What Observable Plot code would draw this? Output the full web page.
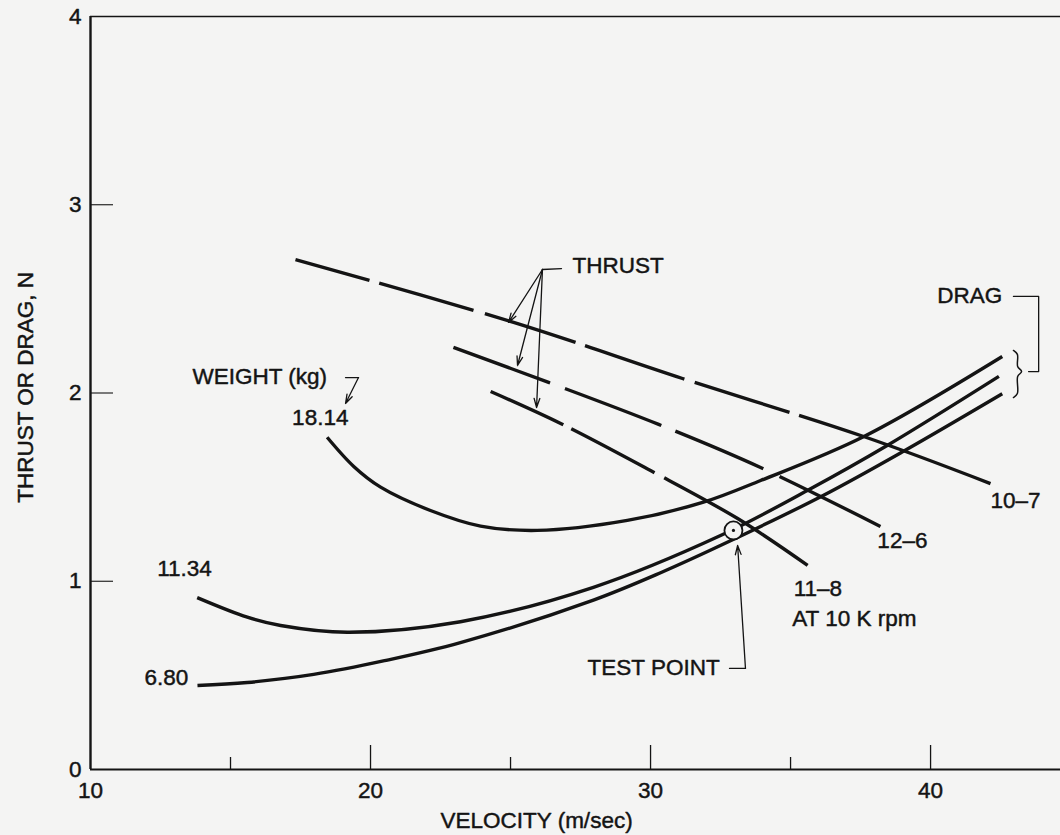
<!DOCTYPE html>
<html><head><meta charset="utf-8">
<script src="https://cdn.jsdelivr.net/npm/d3@7"></script>
<script src="https://cdn.jsdelivr.net/npm/@observablehq/plot@0.6"></script>
<style>
html,body{margin:0;padding:0;background:#f4f4f3;}
#chart svg{display:block;}
</style></head><body><div id="chart"></div>
<script>
// ---- Data (velocity m/sec, thrust or drag N) ----
const weightLabels = ["18.14", "11.34", "6.80"];
const drag18Velocity = [18.45, 19.40, 20.36, 22.14, 23.93, 25.95, 29.17, 31.89, 33.93, 37.62, 42.56];
const drag18Force    = [1.765, 1.610, 1.50, 1.376, 1.293, 1.270, 1.323, 1.42, 1.535, 1.769, 2.194];
const drag11Velocity = [13.81, 15.6, 16.79, 19.17, 23.21, 27.96, 32.5, 35.6, 38.45, 42.44];
const drag11Force    = [0.913, 0.809, 0.765, 0.729, 0.785, 0.968, 1.243, 1.482, 1.721, 2.088];
const drag6Velocity  = [13.82, 15.6, 17.97, 20.5, 23.21, 27.96, 30.4, 32.74, 36.18, 39.05, 42.56];
const drag6Force     = [0.446, 0.462, 0.505, 0.578, 0.674, 0.900, 1.048, 1.207, 1.457, 1.692, 1.996];

const propellers = ["10–7", "12–6", "11–8"];
const thrust107Velocity = [17.32, 25.11, 31.14, 37.61, 42.14];
const thrust107Force    = [2.709, 2.375, 2.077, 1.769, 1.519];
const thrust126Velocity = [22.96, 26.36, 30.29, 33.93, 38.21];
const thrust126Force    = [2.242, 2.056, 1.833, 1.604, 1.291];
const thrust118Velocity = [24.29, 26.79, 30.0, 33.11, 35.61];
const thrust118Force    = [2.008, 1.838, 1.588, 1.333, 1.084];

const testPointVelocity = [32.96];
const testPointForce = [1.27];

const xTickLabels = [10, 20, 30, 40];
const xMajorTicks = [20, 30, 40];
const xMinorTicks = [15, 25, 35];
const yTickLabels = [0, 1, 2, 3, 4];
const yTicks = [1, 2, 3];

// ---- Annotations (data coordinates) ----
const annotations = [
  {text: "WEIGHT (kg)", x: 13.64, y: 2.088},
  {text: weightLabels[0], x: 17.20, y: 1.867},
  {text: weightLabels[1], x: 12.38, y: 1.068},
  {text: weightLabels[2], x: 11.93, y: 0.489},
  {text: "THRUST", x: 27.21, y: 2.677},
  {text: "DRAG", x: 40.24, y: 2.518},
  {text: propellers[0], x: 42.14, y: 1.429},
  {text: propellers[1], x: 38.10, y: 1.216},
  {text: propellers[2], x: 35.11, y: 0.961},
  {text: "AT 10 K rpm", x: 35.06, y: 0.802},
  {text: "TEST POINT", x: 27.75, y: 0.542}
];
const leaderLines = [
  {id: "weight", pts: [[19.107, 2.082], [19.571, 2.082]]},
  {id: "thrust", pts: [[26.82, 2.661], [26.14, 2.656]]},
  {id: "drag", pts: [[42.96, 2.513], [43.86, 2.513], [43.86, 2.114], [43.5, 2.114]]},
  {id: "test", pts: [[32.82, 0.537], [33.39, 0.537]]}
];
const leaderArrows = [
  {x1: 19.571, y1: 2.082, x2: 19.107, y2: 1.944},
  {x1: 26.14, y1: 2.656, x2: 24.93, y2: 2.375},
  {x1: 26.14, y1: 2.656, x2: 25.25, y2: 2.146},
  {x1: 26.14, y1: 2.656, x2: 25.93, y2: 1.923},
  {x1: 33.39, y1: 0.537, x2: 33.11, y2: 1.19}
];
const bracePts = [[42.96, 2.226], [43.10, 2.205], [43.11, 2.141], [43.25, 2.114], [43.11, 2.088], [43.10, 1.997], [42.96, 1.976]];

// ---- Build tables ----
const rows = (name, vs, fs) => vs.map((v, i) => ({series: name, velocity: v, force: fs[i]}));
const drag18 = rows(weightLabels[0], drag18Velocity, drag18Force);
const drag11 = rows(weightLabels[1], drag11Velocity, drag11Force);
const drag6 = rows(weightLabels[2], drag6Velocity, drag6Force);
const t107 = rows(propellers[0], thrust107Velocity, thrust107Force);
const t126 = rows(propellers[1], thrust126Velocity, thrust126Force);
const t118 = rows(propellers[2], thrust118Velocity, thrust118Force);
const testPoint = testPointVelocity.map((v, i) => ({velocity: v, force: testPointForce[i]}));
const leaderRows = leaderLines.flatMap(l => l.pts.map(([x, y]) => ({id: l.id, x, y})));
const braceRows = bracePts.map(([x, y]) => ({x, y}));

const INK = "#141414";
const BG = "#f4f4f3";
const xMin = 10, xMax = 44.64;

const lineOpts = {x: "velocity", y: "force", stroke: INK, strokeWidth: 3.4, curve: "catmull-rom", strokeLinecap: "butt"};
const textOpts = {fill: INK, stroke: INK, strokeWidth: 0.45};

const chart = Plot.plot({
  width: 1060, height: 835,
  marginLeft: 90, marginRight: 0, marginTop: 16, marginBottom: 66,
  x: {domain: [xMin, xMax], axis: null},
  y: {domain: [0, 4], axis: null},
  style: {background: BG, fontFamily: "'Liberation Sans', Arial, sans-serif", fontSize: "22.5px", color: INK},
  marks: [
    // frame lines
    Plot.ruleY([4], {x1: xMin, x2: xMax, stroke: INK, strokeWidth: 1.4}),
    Plot.ruleY([0], {x1: xMin, x2: xMax, stroke: INK, strokeWidth: 2.2}),
    Plot.ruleX([xMin], {y1: 0, y2: 4, stroke: INK, strokeWidth: 2.4}),
    // ticks
    Plot.axisX(xMajorTicks, {anchor: "bottom", tickSize: -24, tickFormat: () => "", stroke: INK, strokeWidth: 1.3}),
    Plot.axisX(xMinorTicks, {anchor: "bottom", tickSize: -12, tickFormat: () => "", stroke: INK, strokeWidth: 1.3}),
    Plot.axisY(yTicks, {anchor: "left", tickSize: -23, tickFormat: () => "", stroke: INK, strokeWidth: 1.1}),
    // tick labels
    Plot.text(xTickLabels, {x: d => d, y: 0, dy: 21, text: d => String(d), ...textOpts}),
    Plot.text(yTickLabels, {x: xMin, y: d => d, dx: -9, textAnchor: "end", text: d => String(d), ...textOpts}),
    // axis titles
    Plot.text(["VELOCITY (m/sec)"], {x: 25.93, y: 0, dy: 51, ...textOpts}),
    Plot.text(["THRUST OR DRAG, N"], {frameAnchor: "left", y: 2.03, dx: -65, rotate: -90, textAnchor: "middle", ...textOpts}),
    // drag curves
    Plot.line(drag18, lineOpts),
    Plot.line(drag11, lineOpts),
    Plot.line(drag6, lineOpts),
    // thrust curves (dashed)
    Plot.line(t107, {...lineOpts, strokeDasharray: "77,10,98,12,95,10,105,11,99,10,1000"}),
    Plot.line(t126, {...lineOpts, strokeDasharray: "103,16,103,15,96,18,1000"}),
    Plot.line(t118, {...lineOpts, strokeDasharray: "80,9,94,11,1000"}),
    // test point
    Plot.dot(testPoint, {x: "velocity", y: "force", r: 9, fill: BG, stroke: INK, strokeWidth: 1.8}),
    Plot.dot(testPoint, {x: "velocity", y: "force", r: 1.6, fill: INK}),
    // leaders
    Plot.line(leaderRows, {x: "x", y: "y", z: "id", stroke: INK, strokeWidth: 1.3}),
    Plot.arrow(leaderArrows, {x1: "x1", y1: "y1", x2: "x2", y2: "y2", stroke: INK, strokeWidth: 1.3, headLength: 11, headAngle: 35}),
    Plot.line(braceRows, {x: "x", y: "y", stroke: INK, strokeWidth: 1.5, curve: "catmull-rom"}),
    // labels
    Plot.text(annotations, {x: "x", y: "y", text: "text", textAnchor: "start", ...textOpts})
  ]
});
document.getElementById("chart").appendChild(chart);
</script>
</body></html>
